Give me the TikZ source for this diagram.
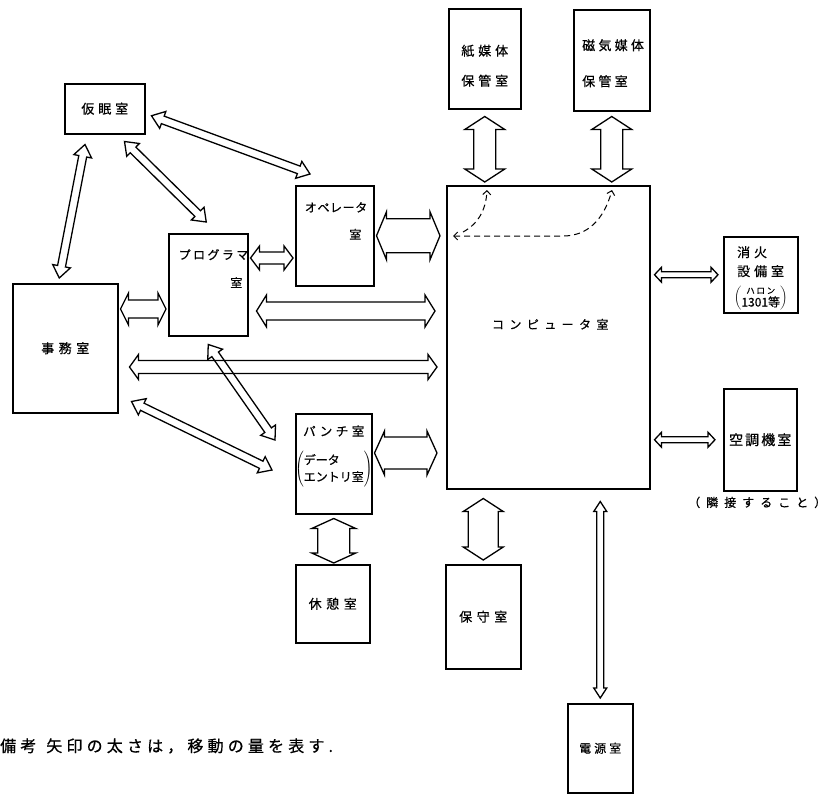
\documentclass[tikz,border=0pt]{standalone}
\usepackage{fontspec}
\newfontfamily\jp[FakeBold=0.6]{Noto Sans CJK JP}
\usepackage{tikz}
\usetikzlibrary{calc,arrows.meta}

% size, letter space, baseline skip
\newcommand\jpfont[3]{\jp\fontsize{#1}{#3}\selectfont\addfontfeature{LetterSpace=#2}}

% hollow two-headed arrow: ends, shaft half width, head half width, head length
\newcommand\flow[5]{%
  \draw[flowline]
    (#1)
    -- ($($(#1)!#5!(#2)$)!#4!90:(#2)$)
    -- ($($(#1)!#5!(#2)$)!#3!90:(#2)$)
    -- ($($(#2)!#5!(#1)$)!#3!-90:(#1)$)
    -- ($($(#2)!#5!(#1)$)!#4!-90:(#1)$)
    -- (#2)
    -- ($($(#2)!#5!(#1)$)!#4!90:(#1)$)
    -- ($($(#2)!#5!(#1)$)!#3!90:(#1)$)
    -- ($($(#1)!#5!(#2)$)!#3!-90:(#2)$)
    -- ($($(#1)!#5!(#2)$)!#4!-90:(#2)$)
    -- cycle;}

\begin{document}
\begin{tikzpicture}[
      x=1pt, y=-1pt,
      room/.style={draw, line width=1.5pt, inner sep=0pt, anchor=north west,
                   align=center, font={\jpfont{13}{35}{16}}},
      txt/.style={inner sep=0pt, align=center},
      flowline/.style={line width=1.3pt, line join=miter},
      dsh/.style={line width=1pt, dash pattern=on 6pt off 4pt},
      tip/.tip={Straight Barb[length=4pt,width=8pt]},
    ]
    \useasboundingbox (0,0) rectangle (830,795);

    % ---------- rooms ----------
    \node[room, minimum width=80pt, minimum height=50pt,
          font={\jpfont{13}{30}{16}}] (kmn) at (64,83) {仮眠室};
    \node[room, minimum width=72pt, minimum height=100pt] (kami) at (448,8) {};
    \node[room, minimum width=76pt, minimum height=101pt] (jiki) at (573,9) {};
    \node[room, minimum width=105pt, minimum height=129pt] (jim) at (12,283) {事務室};
    \node[room, minimum width=79pt, minimum height=102pt] (prg) at (168,233) {};
    \node[room, minimum width=78pt, minimum height=100pt] (ope) at (295,185) {};
    \node[room, minimum width=203pt, minimum height=303pt] (comp) at (446,185) {};
    \node[room, minimum width=74pt, minimum height=76pt] (shoka) at (723,236) {};
    \node[room, minimum width=73pt, minimum height=102pt,
          font={\jpfont{14}{15}{16}}] (kucho) at (723,388) {空調機室};
    \node[room, minimum width=76pt, minimum height=100pt] (pch) at (295,413) {};
    \node[room, minimum width=74pt, minimum height=78pt] (kyu) at (295,564) {休憩室};
    \node[room, minimum width=75pt, minimum height=104pt] (hosh) at (445,564) {保守室};
    \node[room, minimum width=65pt, minimum height=89pt,
          font={\jpfont{12}{25}{14}}] (den) at (567,703) {電源室};

    % ---------- room texts ----------
    \node[txt, font={\jpfont{13}{30}{30}}] (kami-t)
      at ([yshift=-7pt]kami.center) {紙媒体\\保管室};
    \node[txt, align=left, anchor=west, font={\jpfont{13}{25}{36}}] (jiki-t)
      at ([xshift=9pt,yshift=-3pt]jiki.west) {磁気媒体\\保管室};
    \node[txt, align=right, anchor=north east, font={\jpfont{12}{20}{28}}] (prg-t)
      at ([yshift=-16pt]prg.north east) {プログラマ\\室\hspace*{6pt}};
    \node[txt, align=right, anchor=north east, font={\jpfont{12}{5}{27}}] (ope-t)
      at ([xshift=-7pt,yshift=-17pt]ope.north east) {オペレータ\\室\hspace*{6pt}};
    \node[txt, font={\jpfont{12}{45}{14}}] (comp-t)
      at ([xshift=2pt,yshift=13pt]comp.center) {コンピュータ室};
    \node[txt, align=left, anchor=north west, font={\jpfont{13}{30}{19}}] (shoka-t)
      at ([xshift=14pt,yshift=-10pt]shoka.north west) {消火\\設備室};
    \node[txt, font={\jpfont{12}{0}{12}}] (shoka-h)
      at ([yshift=-23pt]shoka.center)
      {$\left(\vcenter{\hbox{\begin{tabular}{@{}c@{}}%
        {\jpfont{8.5}{20}{9}ハロン}\\[-1pt]1301等\end{tabular}}}\right)$};
    \node[txt, font={\jpfont{12.5}{28}{15}}] (pch-t)
      at ([yshift=-18pt]pch.north) {パンチ室};
    \node[txt, font={\jpfont{12}{0}{19}}] (pch-d)
      at ([yshift=-56pt]pch.north)
      {$\left(\vcenter{\hbox{\begin{tabular}{@{}l@{}}%
        データ\\[-2pt]エントリ室\end{tabular}}}\right)$};
    \node[txt, anchor=north, font={\jpfont{12}{50}{14}}] (kucho-n)
      at ([xshift=-3pt,yshift=-5pt]kucho.south) {（隣接すること）};

    % ---------- flows ----------
    \flow{[xshift=21pt,yshift=-10pt]kmn.south west}{[xshift=-6pt,yshift=5pt]jim.north}{4pt}{9pt}{12pt}
    \flow{[xshift=6pt,yshift=-7pt]kmn.east}{[xshift=15pt,yshift=11pt]ope.north west}{4pt}{9pt}{12pt}
    \flow{[xshift=-21pt,yshift=-7pt]kmn.south east}{[xshift=-2pt,yshift=11pt]prg.north}{4pt}{9pt}{12pt}
    \flow{[xshift=2pt,yshift=-26pt]jim.north east}{[xshift=-2pt,yshift=-76pt]prg.north west}{9pt}{16pt}{8pt}
    \flow{[xshift=2pt,yshift=-25pt]prg.north east}{[xshift=-2pt,yshift=-73pt]ope.north west}{6pt}{12pt}{9pt}
    \flow{[xshift=8pt,yshift=-78pt]prg.north east}{[xshift=-11pt,yshift=-126pt]comp.north west}{9pt}{16pt}{10pt}
    \flow{[xshift=11pt,yshift=-84pt]jim.north east}{[xshift=-9pt,yshift=-182pt]comp.north west}{6.5pt}{12.5pt}{9pt}
    \flow{[xshift=2pt]ope.east}{[xshift=-6pt]ope.east -| comp.west}{17pt}{24pt}{10pt}
    \flow{[yshift=-8pt]prg.south}{[xshift=-20pt,yshift=-27pt]pch.north west}{4pt}{9pt}{12pt}
    \flow{[xshift=13pt,yshift=12pt]jim.south east}{[xshift=-23pt,yshift=-57pt]pch.north west}{4pt}{9pt}{12pt}
    \flow{[xshift=2pt,yshift=-40pt]pch.north east}{[xshift=-9pt,yshift=-268pt]comp.north west}{16pt}{22pt}{10pt}
    \flow{[yshift=-4pt]pch.south}{[yshift=1pt]pch.south |- kyu.north}{16pt}{22pt}{10pt}
    \flow{[yshift=-7pt]kami.south}{[yshift=3pt]kami.south |- comp.north}{11pt}{20pt}{13pt}
    \flow{[yshift=-5pt]jiki.south}{[yshift=3pt]jiki.south |- comp.north}{11pt}{20pt}{13pt}
    \flow{[yshift=-9pt]hosh.north |- comp.south}{[yshift=4pt]hosh.north}{15pt}{20pt}{13pt}
    \flow{[yshift=-12pt]den.north |- comp.south}{[yshift=5pt]den.north}{3.5pt}{6.5pt}{10pt}
    \flow{[xshift=4pt]shoka.west -| comp.east}{[xshift=-5pt]shoka.west}{3pt}{7.5pt}{7pt}
    \flow{[xshift=4pt]kucho.west -| comp.east}{[xshift=-8pt]kucho.west}{3pt}{7.5pt}{7pt}

    % ---------- media paths inside the computer room ----------
    \coordinate (dl) at ([xshift=7pt,yshift=-51pt]comp.north west);
    \coordinate (dm) at ([xshift=17pt,yshift=-47pt]comp.north west);
    \coordinate (d1) at ([xshift=41pt,yshift=-5pt]comp.north west);
    \coordinate (d2) at ([xshift=166pt,yshift=-5pt]comp.north west);
    \draw[dsh, {tip}-{tip}] (dl) -- ++(110,0) .. controls +(30,0) and +(-6,22) .. (d2);
    \draw[dsh, -{tip}] (dm) .. controls +(15,-8) and +(-1,20) .. (d1);

    % ---------- note ----------
    \node[txt, anchor=west, font={\jpfont{16}{26}{16}}] (note)
      at (0,746) {備考\hspace{10pt}矢印の太さは，移動の量を表す.};

  \end{tikzpicture}
\end{document}
